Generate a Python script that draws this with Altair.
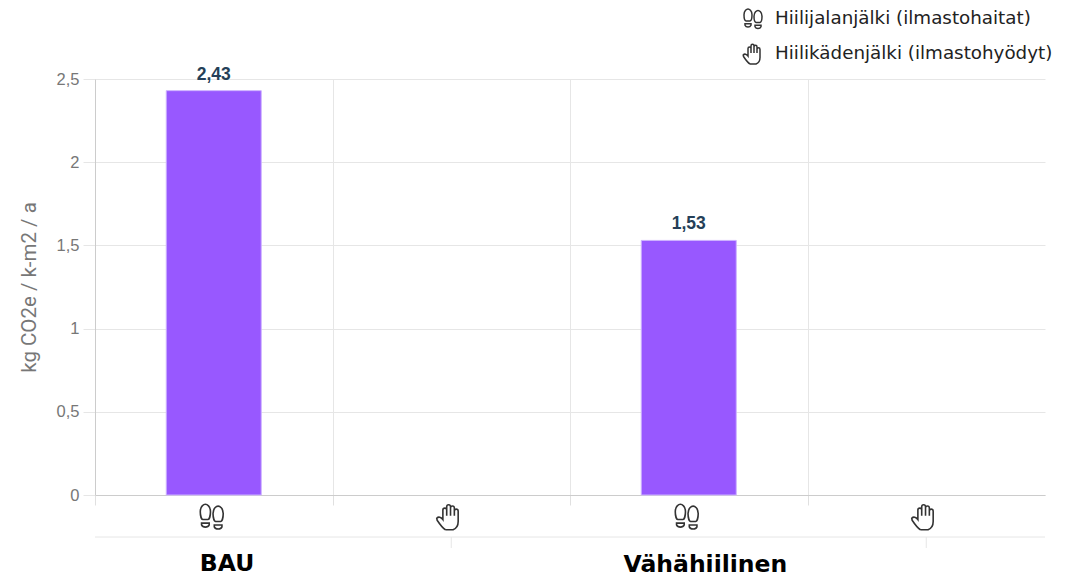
import altair as alt
import pandas as pd

# Carbon footprint and handprint per scenario
slots = [0.5, 1.5, 2.5, 3.5]
slot_edges = [0, 1, 2, 3]
series = ["Hiilijalanjälki (ilmastohaitat)", "Hiilikädenjälki (ilmastohyödyt)",
          "Hiilijalanjälki (ilmastohaitat)", "Hiilikädenjälki (ilmastohyödyt)"]
bar_slots = [0.5, 2.5]
bar_values = [2.43, 1.53]
y_ticks = [0, 0.5, 1, 1.5, 2, 2.5]
group_names = ["BAU", "Vähähiilinen"]
group_label_x = [0.556, 2.57]
group_ticks = [1.5, 3.5]

FOOT = (
    "M-0.9,-0.42 C-0.9,-0.85 -0.62,-1 -0.5,-1 C-0.38,-1 -0.1,-0.85 -0.1,-0.42 "
    "C-0.1,-0.1 -0.2,0.18 -0.3,0.2 L-0.7,0.2 C-0.8,0.18 -0.9,-0.1 -0.9,-0.42 Z "
    "M-0.8,0.48 L-0.2,0.48 L-0.2,0.62 C-0.3,0.85 -0.7,0.85 -0.8,0.62 Z "
    "M0.1,-0.27 C0.1,-0.7 0.38,-0.85 0.5,-0.85 C0.62,-0.85 0.9,-0.7 0.9,-0.27 "
    "C0.9,0.05 0.8,0.33 0.7,0.35 L0.3,0.35 C0.2,0.33 0.1,0.05 0.1,-0.27 Z "
    "M0.2,0.63 L0.8,0.63 L0.8,0.77 C0.7,1 0.3,1 0.2,0.77 Z"
)
HAND = (
    "M-0.3,1 C-0.55,0.85 -0.75,0.55 -0.95,0.25 L-0.98,0.1 C-0.85,-0.05 -0.65,0 -0.5,0.2 "
    "L-0.5,-0.55 C-0.5,-0.75 -0.2,-0.75 -0.2,-0.55 L-0.2,-0.8 C-0.2,-1.02 0.1,-1.02 0.1,-0.8 "
    "L0.1,-0.1 M0.1,-0.7 C0.1,-0.92 0.4,-0.92 0.4,-0.7 L0.4,-0.1 "
    "M0.4,-0.45 C0.4,-0.67 0.7,-0.67 0.7,-0.45 L0.7,0.35 C0.7,0.7 0.55,0.9 0.3,1 L-0.3,1 "
    "M-0.2,-0.55 L-0.2,-0.1"
)

bars_df = pd.DataFrame({"slot": bar_slots, "value": bar_values})
icons_df = pd.DataFrame({"slot": slots, "series": series})
groups_df = pd.DataFrame({"x": group_label_x, "name": group_names})
group_ticks_df = pd.DataFrame({"x": group_ticks})

x_scale = alt.Scale(domain=[0, 4], nice=False, zero=False, padding=0)
y_scale = alt.Scale(domain=[0, 2.5], nice=False)

bars = alt.Chart(bars_df).mark_bar(
    size=95, color="#9858FF", stroke="#CDB3FF", strokeWidth=1
).encode(
    x=alt.X("slot:Q", scale=x_scale, axis=alt.Axis(
        values=slot_edges, title=None, labels=False, grid=True, gridColor="#E6E6E6",
        tickColor="#E0E0E0", tickSize=10, domainColor="#CCCCCC", domainWidth=1)),
    y=alt.Y("value:Q", scale=y_scale, axis=alt.Axis(
        values=y_ticks, title="kg CO2e / k-m2 / a", titleFont="Roboto",
        titleFontSize=20.5, titleFontWeight="normal", titleColor="#777777", titlePadding=17,
        labelExpr="replace(datum.value, '.', ',')", labelFont="Liberation Sans",
        labelFontSize=16.5, labelColor="#777777", labelPadding=4,
        tickColor="#E6E6E6", tickSize=12, grid=True, gridColor="#E6E6E6",
        domainColor="#CCCCCC", domainWidth=1)),
)

value_labels = alt.Chart(bars_df).transform_calculate(
    label="replace(format(datum.value, '.2f'), '.', ',')"
).mark_text(
    baseline="bottom", dy=-7, font="Liberation Sans", fontSize=17.5, fontWeight="bold", color="#253F58"
).encode(
    x=alt.X("slot:Q", scale=x_scale),
    y=alt.Y("value:Q", scale=y_scale),
    text="label:N",
)

icons = alt.Chart(icons_df).mark_point(
    size=650, filled=False, stroke="#333333", strokeWidth=1.6, opacity=1
).encode(
    x=alt.X("slot:Q", scale=x_scale),
    xOffset=alt.value(-2),
    y=alt.value(438),
    shape=alt.Shape("series:N", scale=alt.Scale(
        domain=[series[0], series[1]], range=[FOOT, HAND]),
        legend=alt.Legend(
            title=None, orient="none", legendX=647, legendY=-71, symbolSize=400,
            symbolType="circle", symbolStrokeColor="#333333", symbolFillColor="transparent",
            symbolStrokeWidth=1.5, labelFont="DejaVu Sans", labelFontSize=18.3,
            labelColor="#222222", labelOffset=11, rowPadding=9, labelLimit=340)),
)

baseline_rule = alt.Chart(pd.DataFrame({"x": [0], "x2": [4]})).mark_rule(
    color="#E6E6E6", strokeWidth=1
).encode(
    x=alt.X("x:Q", scale=x_scale), x2="x2:Q", y=alt.value(458),
)

group_rules = alt.Chart(group_ticks_df).mark_rule(color="#E6E6E6", strokeWidth=1).encode(
    x=alt.X("x:Q", scale=x_scale), y=alt.value(458), y2=alt.value(469),
)

first_group = alt.Chart(groups_df.iloc[:1]).mark_text(
    font="DejaVu Sans", fontSize=23.5, fontWeight="bold", color="#000000", baseline="middle"
).encode(
    x=alt.X("x:Q", scale=x_scale),
    y=alt.value(485),
    text="name:N",
)

second_group = alt.Chart(groups_df.iloc[1:]).mark_text(
    font="DejaVu Sans", fontSize=23.5, fontWeight="bold", color="#000000", baseline="middle"
).encode(
    x=alt.X("x:Q", scale=x_scale),
    y=alt.value(486),
    text="name:N",
)

chart = alt.layer(
    bars, value_labels, icons, baseline_rule, group_rules, first_group, second_group
).properties(
    width=950, height=416,
    autosize=alt.AutoSizeParams(type="none"),
    padding={"left": 95, "top": 79, "right": 21, "bottom": 82},
    background="#FFFFFF",
).configure_view(stroke=None)

chart.save("out.html", embed_options={"renderer": "svg", "actions": False})
